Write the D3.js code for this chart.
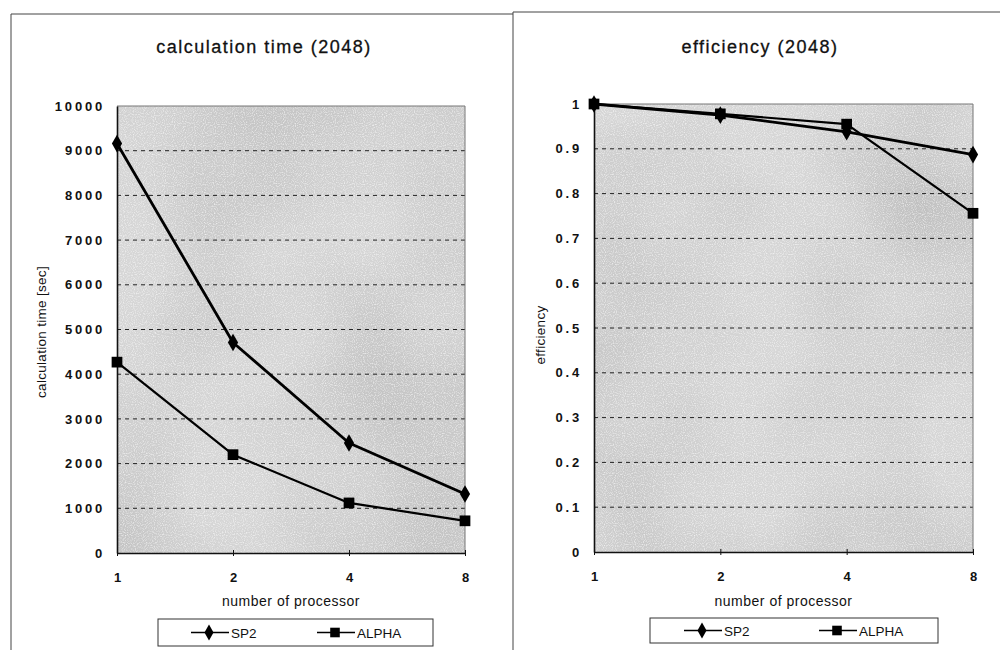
<!DOCTYPE html>
<html><head><meta charset="utf-8">
<script src="https://cdn.jsdelivr.net/npm/d3@7"></script>
<style>body{margin:0;background:#fff}svg{display:block}text{font-family:"Liberation Sans",Arial,sans-serif;fill:#111}</style>
</head><body><svg id="c" width="1000" height="650"></svg>
<script>
const processors = ["1","2","4","8"];
const timeSP2 = [9160, 4710, 2460, 1320];
const timeALPHA = [4270, 2200, 1120, 720];
const effSP2 = [1.0, 0.975, 0.938, 0.887];
const effALPHA = [1.0, 0.978, 0.955, 0.756];
const timeTicks = [0,1000,2000,3000,4000,5000,6000,7000,8000,9000,10000];
const effTicks = [0,0.1,0.2,0.3,0.4,0.5,0.6,0.7,0.8,0.9,1];
const seriesNames = ["SP2","ALPHA"];

const svg = d3.select("#c");
const defs = svg.append("defs");
const f = defs.append("filter").attr("id","grain").attr("x",0).attr("y",0).attr("width","100%").attr("height","100%").attr("color-interpolation-filters","sRGB");
f.append("feTurbulence").attr("type","fractalNoise").attr("baseFrequency","0.9").attr("numOctaves",1).attr("seed",3).attr("result","n");
f.append("feColorMatrix").attr("in","n").attr("type","matrix")
 .attr("values","0 0 0 0 1  0 0 0 0 1  0 0 0 0 1  0 0 0 -2.4 1.3").attr("result","a");
f.append("feComposite").attr("in","a").attr("in2","SourceGraphic").attr("operator","in");
const f2 = defs.append("filter").attr("id","blob").attr("x",0).attr("y",0).attr("width","100%").attr("height","100%").attr("color-interpolation-filters","sRGB");
f2.append("feTurbulence").attr("type","fractalNoise").attr("baseFrequency","0.006").attr("numOctaves",2).attr("seed",7).attr("result","n");
f2.append("feColorMatrix").attr("in","n").attr("type","matrix")
 .attr("values","0 0 0 0 0.6  0 0 0 0 0.6  0 0 0 0 0.6  0 0 0 1.4 -0.5").attr("result","a");
f2.append("feComposite").attr("in","a").attr("in2","SourceGraphic").attr("operator","in");

// frame lines
svg.append("path").attr("d","M11,650V14H513").attr("fill","none").attr("stroke","#444").attr("stroke-width",1);
svg.append("path").attr("d","M513,650V12H1000").attr("fill","none").attr("stroke","#444").attr("stroke-width",1);

function panel(o){
  const g = svg.append("g");
  const x = d3.scalePoint().domain(processors).range([o.x0,o.x1]);
  const y = d3.scaleLinear().domain([0,o.max]).range([o.y1,o.y0]);
  // background
  g.append("rect").attr("x",o.x0).attr("y",o.y0).attr("width",o.x1-o.x0).attr("height",o.y1-o.y0).attr("fill","#d6d6d6");
  g.append("rect").attr("x",o.x0).attr("y",o.y0).attr("width",o.x1-o.x0).attr("height",o.y1-o.y0).attr("fill","#999").attr("filter","url(#blob)").attr("opacity",0.5);
  g.append("rect").attr("x",o.x0).attr("y",o.y0).attr("width",o.x1-o.x0).attr("height",o.y1-o.y0).attr("fill","#fff").attr("filter","url(#grain)").attr("opacity",0.75);
  // grid
  g.selectAll(".grid").data(o.ticks.filter(t=>t>0 && t<o.max)).join("line")
   .attr("x1",o.x0).attr("x2",o.x1).attr("y1",d=>y(d)).attr("y2",d=>y(d))
   .attr("stroke","#222").attr("stroke-width",1).attr("stroke-dasharray","4,4");
  // border top/right
  g.append("path").attr("d",`M${o.x0},${o.y0}H${o.x1}V${o.y1}`).attr("fill","none").attr("stroke","#777").attr("stroke-width",1);
  // axes
  const ya = d3.axisLeft(y).tickValues(o.ticks).tickSize(0).tickPadding(12).tickFormat(o.fmt);
  const yg = g.append("g").attr("transform",`translate(${o.x0},0)`).call(ya);
  yg.select(".domain").attr("stroke","#111").attr("stroke-width",1.6);
  yg.selectAll("text").attr("font-size",13).attr("font-weight","bold").attr("letter-spacing","2.8px");
  const xa = d3.axisBottom(x).tickSize(4).tickSizeOuter(0).tickPadding(16);
  const xg = g.append("g").attr("transform",`translate(0,${o.y1})`).call(xa);
  xg.select(".domain").attr("stroke","#111").attr("stroke-width",1.6);
  xg.selectAll(".tick line").attr("stroke","#111").attr("y1",-3).attr("y2",3);
  xg.selectAll("text").attr("font-size",13).attr("font-weight","bold");
  // titles
  g.append("text").attr("x",o.tx).attr("y",53).attr("text-anchor","middle").attr("font-size",18).attr("letter-spacing","1.5px")
   .attr("stroke","#111").attr("stroke-width",0.3).text(o.title);
  g.append("text").attr("x",(o.x0+o.x1)/2).attr("y",606).attr("text-anchor","middle").attr("font-size",14).attr("letter-spacing","0.5px").text("number of processor");
  g.append("text").attr("transform",`translate(${o.ytx},${o.yty}) rotate(-90)`).attr("text-anchor","middle").attr("font-size",13.5).attr("letter-spacing","0.3px").text(o.ytitle);
  // lines
  const line = d3.line().x((d,i)=>x(processors[i])).y(d=>y(d));
  const series = [{name:"SP2",v:o.s1,w:2.8,shape:d3.symbolDiamond,size:90},{name:"ALPHA",v:o.s2,w:2.2,shape:d3.symbolSquare,size:115}];
  series.forEach(s=>{
    g.append("path").attr("d",line(s.v)).attr("fill","none").attr("stroke","#000").attr("stroke-width",s.w).attr("stroke-linejoin","round");
  });
  series.forEach(s=>{
    g.selectAll(null).data(s.v).join("path")
     .attr("transform",(d,i)=>`translate(${x(processors[i])},${y(d)})`)
     .attr("d",d3.symbol().type(s.shape).size(s.size)).attr("fill","#000");
  });
  // legend
  const L = o.leg;
  g.append("rect").attr("x",L.x).attr("y",L.y).attr("width",L.w).attr("height",L.h).attr("fill","#fff").attr("stroke","#333").attr("stroke-width",1);
  series.forEach((s,i)=>{
    const lx = L.items[i];
    const cy = L.y+L.h/2;
    g.append("line").attr("x1",lx).attr("x2",lx+38).attr("y1",cy).attr("y2",cy).attr("stroke","#000").attr("stroke-width",1.6);
    g.append("path").attr("transform",`translate(${lx+18},${cy})`).attr("d",d3.symbol().type(s.shape).size(s.size*0.8)).attr("fill","#000");
    g.append("text").attr("x",lx+40).attr("y",cy+5).attr("font-size",13.5).text(seriesNames[i]);
  });
}

panel({x0:117,x1:465,y0:106,y1:553,max:10000,ticks:timeTicks,fmt:d3.format("d"),
  s1:timeSP2,s2:timeALPHA,title:"calculation time (2048)",tx:264,ytitle:"calculation time [sec]",ytx:46,yty:332,
  leg:{x:158,y:619,w:275,h:27,items:[191,317]}});
panel({x0:594,x1:973,y0:104,y1:552,max:1,ticks:effTicks,fmt:d=>d===0?"0":d===1?"1":d3.format(".1f")(d),
  s1:effSP2,s2:effALPHA,title:"efficiency (2048)",tx:760,ytitle:"efficiency",ytx:545,yty:335,
  leg:{x:650,y:618,w:288,h:25,items:[684,819]}});
</script></body></html>
